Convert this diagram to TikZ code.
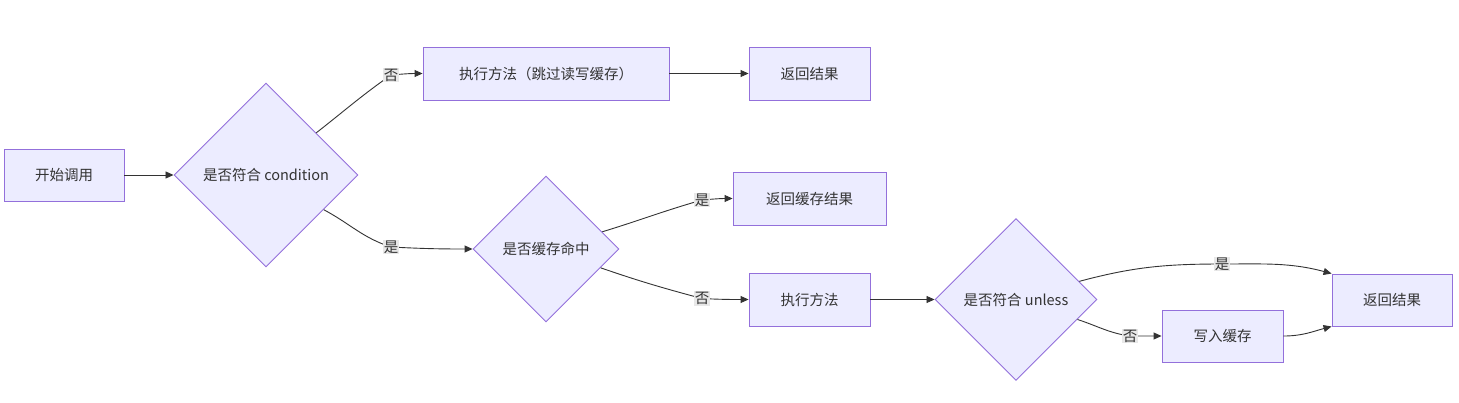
\documentclass[tikz,border=0pt]{standalone}
\usepackage{fontspec}
\setmainfont{Noto Sans CJK SC}
\usetikzlibrary{shapes.geometric,arrows.meta}
\definecolor{nodefill}{HTML}{ECECFF}
\definecolor{nodeline}{HTML}{9370DB}
\definecolor{edgecol}{HTML}{333333}
\definecolor{lblbg}{HTML}{E8E8E8}
\definecolor{txt}{HTML}{333333}
\begin{document}
\begin{tikzpicture}[x=1pt,y=-1pt,
  every node/.style={font=\fontsize{14.5}{17}\selectfont, text=txt},
  box/.style={draw=nodeline, fill=nodefill, line width=0.9pt, inner sep=0pt, rectangle},
  dia/.style={draw=nodeline, fill=nodefill, line width=0.9pt, inner sep=0pt, diamond, aspect=1},
  arr/.style={draw=edgecol, line width=0.9pt, -{Triangle[length=8pt,width=7pt]}},
  lbl/.style={fill=lblbg, inner sep=1pt, font=\fontsize{14.5}{16}\selectfont}]
\useasboundingbox[fill=white] (0,0) rectangle (1459,402);

\node[box, minimum width=120, minimum height=52] (start) at (64,175) {开始调用};
\node[dia, minimum width=184, minimum height=184] (d1) at (266,175) {是否符合 condition};
\node[box, minimum width=246, minimum height=53] (skip) at (546,73.5) {执行方法（跳过读写缓存）};
\node[box, minimum width=121, minimum height=53] (ret1) at (809.5,73.5) {返回结果};
\node[dia, minimum width=146, minimum height=146] (d2) at (546,249) {是否缓存命中};
\node[box, minimum width=153, minimum height=53] (retc) at (809.5,198.5) {返回缓存结果};
\node[box, minimum width=121, minimum height=53] (exec) at (809.5,299.5) {执行方法};
\node[dia, minimum width=162, minimum height=162] (d3) at (1016,299.5) {是否符合 unless};
\node[box, minimum width=121, minimum height=52] (write) at (1222.5,336) {写入缓存};
\node[box, minimum width=120, minimum height=52] (ret2) at (1392,300) {返回结果};

\coordinate (l1) at (391,75);
\coordinate (l2) at (391,247);
\coordinate (l3) at (702,200);
\coordinate (l4) at (702,298.5);
\coordinate (l5) at (1222,264);
\coordinate (l6) at (1130,336);

\draw[arr] (start) -- (d1);
\draw[arr] (d1.40) to[out=38,in=215] (l1) to[out=5,in=180] (skip.west);
\draw[arr] (skip) -- (ret1);
\draw[arr] (d1.-31) to[out=-28,in=162] (l2) to[out=-3,in=180] (d2.west);
\draw[arr] (d2.17) to[out=17,in=196] (l3) to[out=5,in=180] (retc.west);
\draw[arr] (d2.-19) to[out=-19,in=165] (l4) to[out=-3,in=180] (exec.west);
\draw[arr] (exec) -- (d3);
\draw[arr] (d3.16) to[out=15,in=180] (l5) to[out=0,in=165] (ret2.north west);
\draw[arr] (d3.-18) to[out=-18,in=172] (l6) -- (write.west);
\draw[arr] (write.east) to[out=0,in=195] (ret2.south west);

\node[lbl] at (l1) {否};
\node[lbl] at (l2) {是};
\node[lbl] at (l3) {是};
\node[lbl] at (l4) {否};
\node[lbl] at (l5) {是};
\node[lbl] at (l6) {否};
\end{tikzpicture}
\end{document}
